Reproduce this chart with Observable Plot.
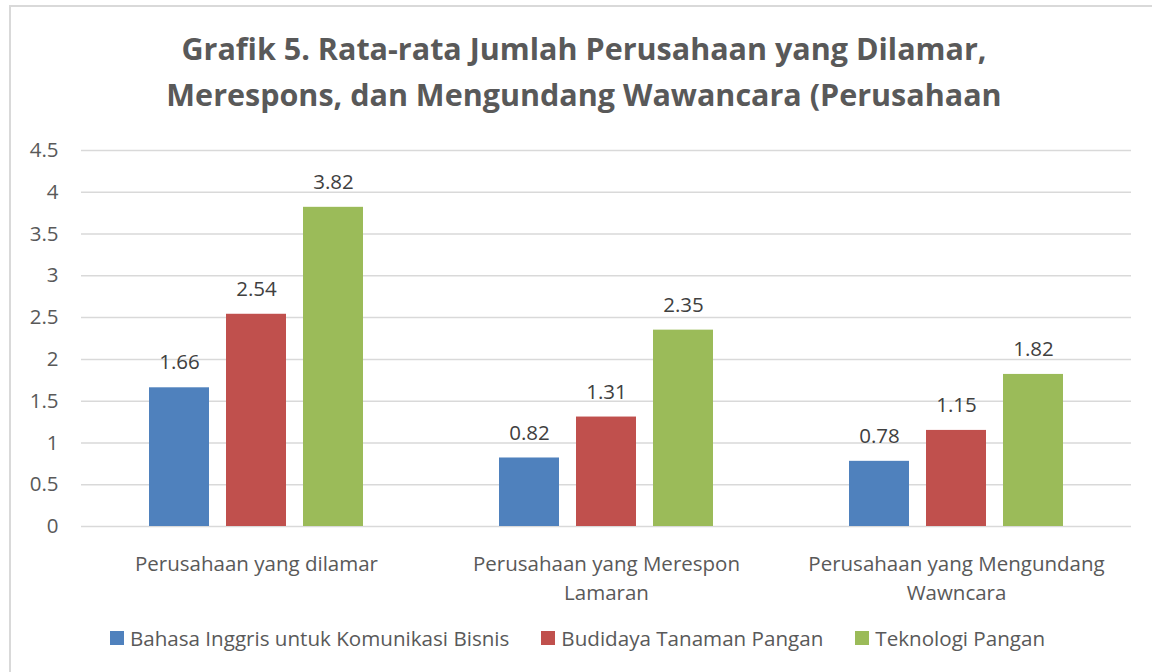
<!DOCTYPE html>
<html>
<head>
<meta charset="utf-8">
<script src="https://cdn.jsdelivr.net/npm/d3@7"></script>
<script src="https://cdn.jsdelivr.net/npm/@observablehq/plot@0.6"></script>
<style>
  html, body { margin: 0; padding: 0; background: #fff; width: 1152px; height: 672px; overflow: hidden; }
  body { position: relative; font-family: "Open Sans", sans-serif; }
  #frame { position: absolute; left: 9px; top: 5px; width: 1200px; height: 700px; border: 2px solid #d9d9d9; box-sizing: border-box; }
  #title { position: absolute; left: 0; top: 25px; width: 1168px; text-align: center; color: #595959; font-weight: 700; font-size: 30.5px; line-height: 46px; }
  #chart { position: absolute; left: 0; top: 130px; }
  #legend { position: absolute; left: 0; top: 624px; width: 1155px; display: flex; justify-content: center; gap: 32px; color: #595959; font-size: 20.6px; line-height: 28px; }
  .item { display: flex; align-items: center; white-space: nowrap; }
  .sw { display: inline-block; width: 14px; height: 14px; margin-right: 6px; }
</style>
</head>
<body>
<div id="frame"></div>
<div id="title"></div>
<div id="chart"></div>
<div id="legend"></div>
<script>
const titleLines = ["Grafik 5. Rata-rata Jumlah Perusahaan yang Dilamar,", "Merespons, dan Mengundang Wawancara (Perusahaan"];
const categories = ["Perusahaan yang dilamar", "Perusahaan yang Merespon Lamaran", "Perusahaan yang Mengundang Wawncara"];
const categoryLabels = ["Perusahaan yang dilamar", "Perusahaan yang Merespon\nLamaran", "Perusahaan yang Mengundang\nWawncara"];
const series = ["Bahasa Inggris untuk Komunikasi Bisnis", "Budidaya Tanaman Pangan", "Teknologi Pangan"];
const colors = ["#4f81bd", "#c0504d", "#9bbb59"];
const valuesBahasa = [1.66, 0.82, 0.78];
const valuesBudidaya = [2.54, 1.31, 1.15];
const valuesTeknologi = [3.82, 2.35, 1.82];
const yTicks = [0, 0.5, 1, 1.5, 2, 2.5, 3, 3.5, 4, 4.5];

const seriesValues = [valuesBahasa, valuesBudidaya, valuesTeknologi];
const data = [];
categories.forEach((c, i) => {
  series.forEach((s, j) => data.push({category: c, series: s, value: seriesValues[j][i]}));
});

document.getElementById("title").innerHTML = titleLines.map(l => `<div>${l}</div>`).join("");

const chart = Plot.plot({
  width: 1152,
  height: 476,
  marginTop: 20,
  marginBottom: 80,
  marginLeft: 80,
  marginRight: 20,
  style: {fontFamily: "Open Sans, sans-serif", fontSize: "20.5px", color: "#595959", background: "transparent"},
  fx: {domain: categories, padding: 0, label: null, axis: null},
  x: {domain: series, paddingInner: 0.215, paddingOuter: 0.864, axis: null},
  y: {domain: [0, 4.5], ticks: yTicks, tickSize: 0, tickPadding: 23, label: null, tickFormat: d => String(d)},
  color: {domain: series, range: colors},
  marks: [
    Plot.gridY(yTicks, {stroke: "#d9d9d9", strokeOpacity: 1, strokeWidth: 1.5}),
    Plot.barY(data, {fx: "category", x: "series", y: "value", fill: "series"}),
    Plot.text(data, {fx: "category", x: "series", y: "value", text: d => d.value.toFixed(2), dy: -25, fill: "#404040", fontSize: 20.5}),
    Plot.axisFx({domain: categories, anchor: "bottom", tickSize: 0, tickPadding: 24, fontSize: 20.5, lineHeight: 1.42, label: null,
      tickFormat: d => categoryLabels[categories.indexOf(d)], fill: "#595959"})
  ]
});
document.getElementById("chart").appendChild(chart);

document.getElementById("legend").innerHTML = series.map((s, i) =>
  `<span class="item"><span class="sw" style="background:${colors[i]}"></span>${s}</span>`).join("");
</script>
</body>
</html>
